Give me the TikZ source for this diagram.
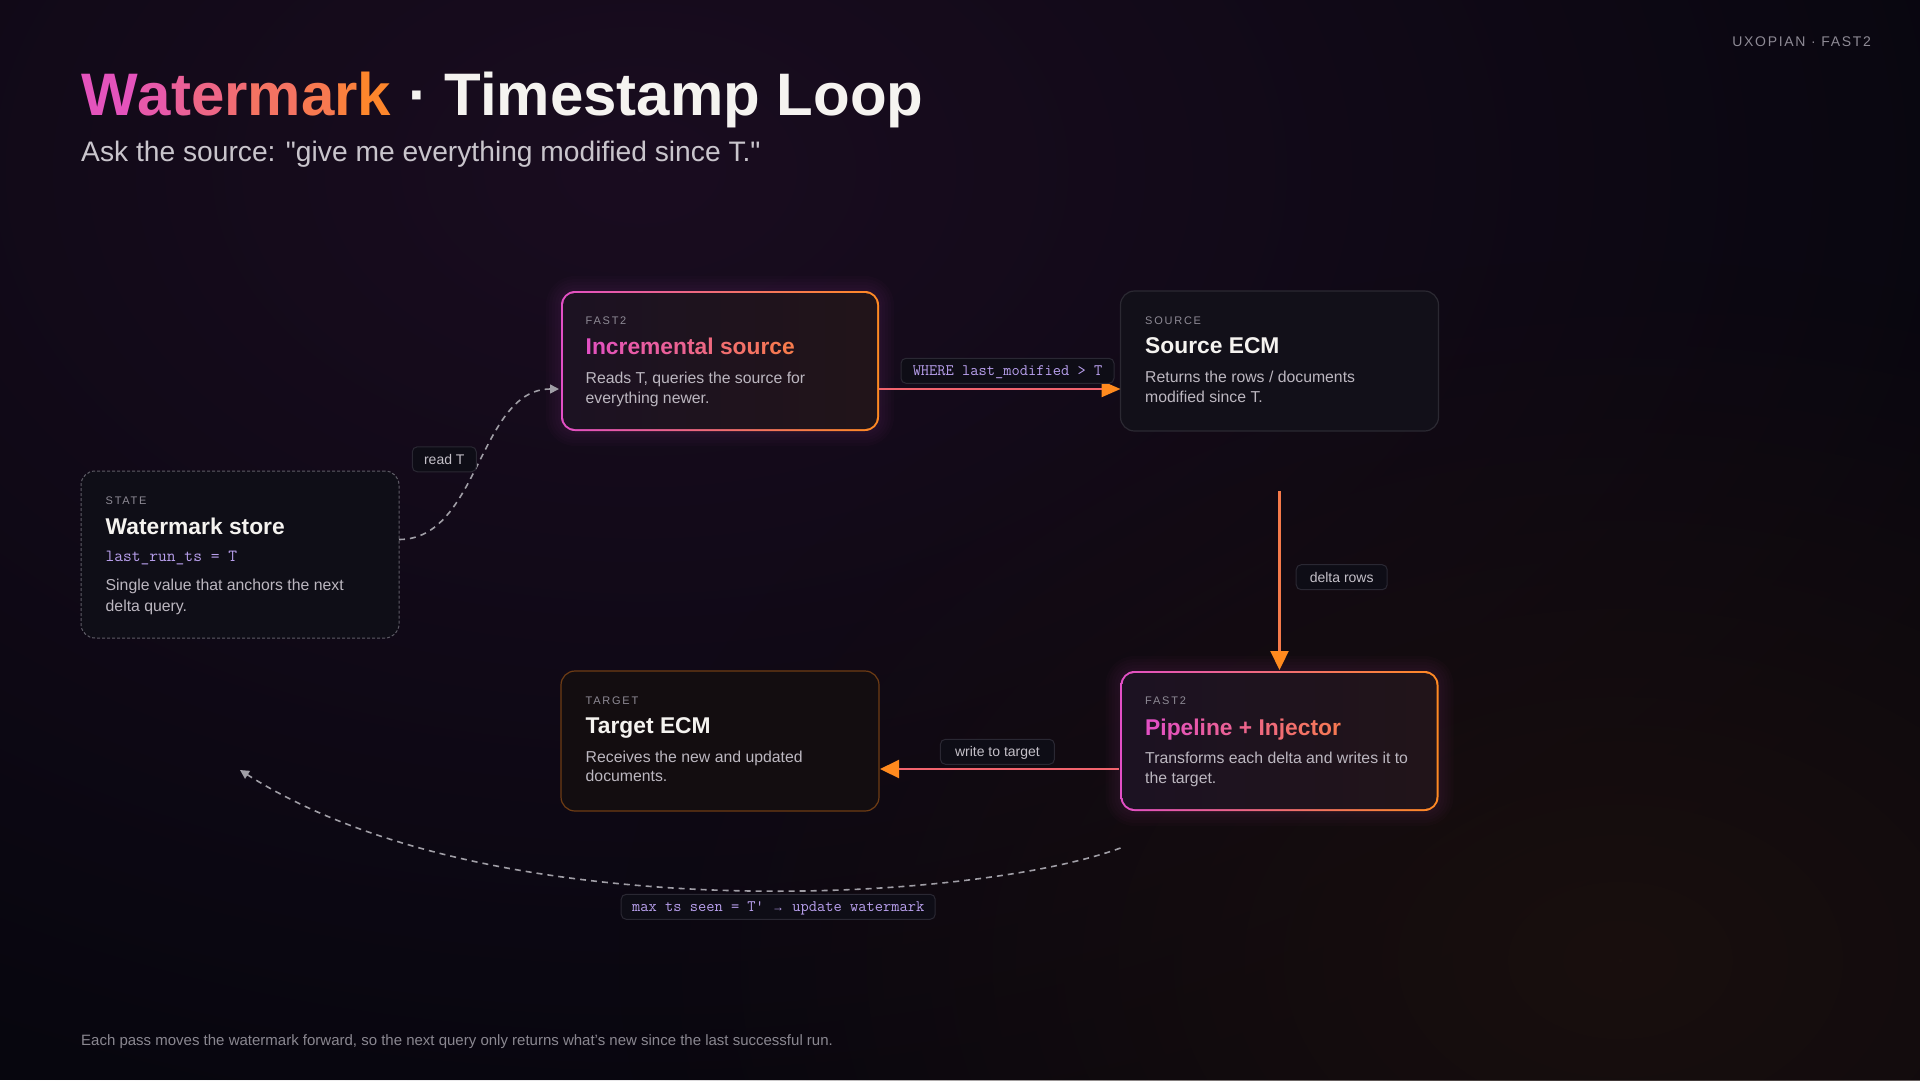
\documentclass[tikz,border=0pt]{standalone}
\usepackage{fontspec}
\setmainfont{Liberation Sans}
\usetikzlibrary{calc,arrows.meta,fadings}

\definecolor{bg}{HTML}{07060E}
\definecolor{pk}{HTML}{E24FC6}
\definecolor{org}{HTML}{FF8A22}
\definecolor{lblgray}{HTML}{8E8A95}
\definecolor{titlewhite}{HTML}{F5F3F0}
\definecolor{descgray}{HTML}{BCB7C0}
\definecolor{codepurple}{HTML}{B9A0EE}
\definecolor{incfillL}{HTML}{1C1222}
\definecolor{incfillR}{HTML}{211419}
\definecolor{srcfill}{HTML}{121019}
\definecolor{srcborder}{HTML}{2B2932}
\definecolor{wsfill}{HTML}{0F0E17}
\definecolor{wsborder}{HTML}{5E5C66}
\definecolor{tgtfill}{HTML}{130D10}
\definecolor{tgtborder}{HTML}{6E3C14}
\definecolor{lblfill}{HTML}{0E0D16}
\definecolor{lblborder}{HTML}{2A2833}
\definecolor{lbltext}{HTML}{C4C0C8}
\definecolor{linecoral}{HTML}{F2646E}
\definecolor{lineorange}{HTML}{F57A4A}
\definecolor{arrorange}{HTML}{FF8A1E}
\definecolor{dashgray}{HTML}{A09EA6}
\definecolor{subgray}{HTML}{C9C5CC}
\definecolor{footgray}{HTML}{8A8790}
\definecolor{glowA}{HTML}{1A0D20}
\definecolor{glowB}{HTML}{190F0D}

\tikzfading[name=glowfade, inner color=transparent!0, outer color=transparent!100]

\ExplSyntaxOn
\int_new:N \l__gt_i_int
\int_new:N \l__gt_n_int
\int_new:N \l__gt_p_int
\seq_new:N \l__gt_words_seq
\bool_new:N \l__gt_first_bool
\cs_new_protected:Npn \__gt_char:nnnn #1#2#3#4 { \textcolor{#2!#3!#1}{#4} }
\cs_generate_variant:Nn \__gt_char:nnnn { nnVn }
\NewDocumentCommand{\gradtext}{ m m m m }
  {
    \int_set:Nn \l__gt_n_int { \str_count:n {#4} }
    \int_zero:N \l__gt_i_int
    \bool_set_true:N \l__gt_first_bool
    \seq_set_split:Nnn \l__gt_words_seq { ~ } {#4}
    \seq_map_inline:Nn \l__gt_words_seq
      {
        \bool_if:NF \l__gt_first_bool { \c_space_tl \int_incr:N \l__gt_i_int }
        \bool_set_false:N \l__gt_first_bool
        \tl_map_inline:nn {##1}
          {
            \int_set:Nn \l__gt_p_int { ( #3 * ( 2 * \l__gt_i_int + 1 ) ) / ( 2 * \l__gt_n_int ) }
            \__gt_char:nnVn {#1} {#2} \l__gt_p_int {####1}
            \int_incr:N \l__gt_i_int
          }
      }
  }
\ExplSyntaxOff

\begin{document}
\begin{tikzpicture}[x=1pt,y=-1pt,
  card/.style={rectangle, minimum width=318pt, minimum height=140pt, inner sep=0pt, outer sep=0pt},
  kicker/.style={anchor=base west, inner sep=0pt, text=lblgray, font=\fontsize{11}{13}\selectfont\addfontfeature{LetterSpace=16}},
  cardtitle/.style={anchor=base west, inner sep=0pt, text=titlewhite, font=\fontsize{22.8}{27}\selectfont\bfseries},
  desc/.style={anchor=base west, inner sep=0pt, text=descgray, font=\fontsize{15.8}{20}\selectfont},
  lbl/.style={draw=lblborder, fill=lblfill, line width=1pt, rounded corners=5pt, inner sep=0pt, minimum height=25pt, text height=10pt, text depth=0pt, text=lbltext, font=\fontsize{14}{16}\selectfont},
  codelbl/.style={lbl, text=codepurple, font=\ttfamily\fontsize{16}{18}\selectfont},
  solidarrow/.style={line width=2.2pt},
  dasharrow/.style={dashgray, line width=1.6pt, dash pattern=on 6pt off 5pt, -{Triangle[length=9pt,width=9pt]}},
]
\useasboundingbox (0,0) rectangle (1920,1080);
\fill[bg] (0,0) rectangle (1920,1080);
\fill[glowA, path fading=glowfade] (640,170) ellipse [x radius=1500pt, y radius=1000pt];
\fill[glowB, path fading=glowfade] (1620,960) ellipse [x radius=1000pt, y radius=700pt];

% header
\node[anchor=base west, inner sep=0pt, font=\fontsize{60}{70}\selectfont\bfseries] (title) at (81,115)
  {\gradtext{pk}{org}{100}{Watermark}\textcolor{titlewhite}{\ ·\ Timestamp Loop}};
\node[anchor=base west, inner sep=0pt, text=subgray, font=\fontsize{28.2}{32}\selectfont] (sub) at (81,161)
  {Ask the source: \textquotedbl give me everything modified since T.\textquotedbl};
\node[anchor=base east, inner sep=0pt, text=lblgray, font=\fontsize{14}{16}\selectfont\addfontfeature{LetterSpace=12}] (brand) at (1871,46)
  {UXOPIAN · FAST2};
\node[anchor=base west, inner sep=0pt, text=footgray, font=\fontsize{15}{17}\selectfont] (foot) at (81,1045)
  {Each pass moves the watermark forward, so the next query only returns what's new since the last successful run.};

% cards
\node[card] (inc) at (720,361) {};
\node[card, draw=srcborder, fill=srcfill, line width=1.2pt, rounded corners=14pt] (src) at (1279.5,361) {};
\node[card, minimum height=167pt, draw=wsborder, fill=wsfill, line width=1pt, dash pattern=on 3pt off 2pt, rounded corners=14pt] (ws) at (240,554.5) {};
\node[card, draw=tgtborder, fill=tgtfill, line width=1.2pt, rounded corners=14pt] (tgt) at (720,741) {};
\node[card] (pipe) at (1279.5,741) {};

\foreach \n in {inc,pipe}{
  \foreach \g in {1,...,5}{
    \fill[pk, opacity=0.02, rounded corners={(14+3*\g)*1pt}] ($(\n.north west)+(-3*\g,-3*\g)$) rectangle ($(\n.south east)+(3*\g,3*\g)$);
  }
  \shade[left color=pk, right color=org, rounded corners=14pt] (\n.north west) rectangle (\n.south east);
  \shade[left color=incfillL, right color=incfillR, rounded corners=12pt] ($(\n.north west)+(2,2)$) rectangle ($(\n.south east)+(-2,-2)$);
}

% card texts
\node[kicker] (inc-k) at ($(inc.north west)+(24.5,33.5)$) {FAST2};
\node[cardtitle] (inc-t) at ($(inc.north west)+(24.5,63.5)$) {\gradtext{pk}{org}{76}{Incremental source}};
\node[desc] (inc-d1) at ($(inc.north west)+(24.5,92)$) {Reads T, queries the source for};
\node[desc] (inc-d2) at ($(inc.north west)+(24.5,112)$) {everything newer.};

\node[kicker] (src-k) at ($(src.north west)+(24.5,33)$) {SOURCE};
\node[cardtitle] (src-t) at ($(src.north west)+(24.5,62.5)$) {Source ECM};
\node[desc] (src-d1) at ($(src.north west)+(24.5,91)$) {Returns the rows / documents};
\node[desc] (src-d2) at ($(src.north west)+(24.5,111)$) {modified since T.};

\node[kicker] (ws-k) at ($(ws.north west)+(24.5,33)$) {STATE};
\node[cardtitle] (ws-t) at ($(ws.north west)+(24.5,63)$) {Watermark store};
\node[anchor=base west, inner sep=0pt, text=codepurple, font=\ttfamily\fontsize{17}{20}\selectfont] (ws-c) at ($(ws.north west)+(24.5,90)$) {last\_run\_ts = T};
\node[desc] (ws-d1) at ($(ws.north west)+(24.5,119)$) {Single value that anchors the next};
\node[desc] (ws-d2) at ($(ws.north west)+(24.5,140)$) {delta query.};

\node[kicker] (tgt-k) at ($(tgt.north west)+(24.5,33)$) {TARGET};
\node[cardtitle] (tgt-t) at ($(tgt.north west)+(24.5,62.5)$) {Target ECM};
\node[desc] (tgt-d1) at ($(tgt.north west)+(24.5,91)$) {Receives the new and updated};
\node[desc] (tgt-d2) at ($(tgt.north west)+(24.5,110.5)$) {documents.};

\node[kicker] (pipe-k) at ($(pipe.north west)+(24.5,33.5)$) {FAST2};
\node[cardtitle] (pipe-t) at ($(pipe.north west)+(24.5,64)$) {\gradtext{pk}{org}{72}{Pipeline + Injector}};
\node[desc] (pipe-d1) at ($(pipe.north west)+(24.5,92)$) {Transforms each delta and writes it to};
\node[desc] (pipe-d2) at ($(pipe.north west)+(24.5,112)$) {the target.};

% connectors
\draw[solidarrow, linecoral, -{Triangle[length=19pt,width=16pt,color=arrorange]}] ($(inc.east)+(0,28)$) -- ($(src.west)+(0,28)$);
\draw[solidarrow, lineorange, -{Triangle[length=19pt,width=18pt,color=arrorange]}] ($(src.south)+(0,60)$) -- ($(pipe.north)+(0,-1)$);
\draw[solidarrow, linecoral, -{Triangle[length=19pt,width=18pt,color=arrorange]}] ($(pipe.west)+(-2,28)$) -- ($(tgt.east)+(1,28)$);
\draw[dasharrow] ($(ws.east)+(0,-15)$) .. controls +(80,0) and +(-80,0) .. ($(inc.west)+(-2,28)$);
\coordinate (loopend) at ($(ws.south)+(0,132)$);
\draw[dasharrow] ($(pipe.south west)+(0,37)$) .. controls +(-150,55) and +(250,160) .. (loopend);

% labels
\node[codelbl, minimum width=213pt] (l-where) at (1007.5,370.8) {WHERE last\_modified > T};
\node[lbl, minimum width=64pt] (l-read) at (444.3,459.3) {read T};
\node[lbl, minimum width=91pt] (l-delta) at (1341.7,577.2) {delta rows};
\node[lbl, minimum width=114pt] (l-write) at (997.4,751.8) {write to target};
\node[codelbl, minimum width=314pt] (l-max) at (778.2,906.8) {max ts seen = T' {\normalfont\fontsize{12}{14}\selectfont→} update watermark};
\end{tikzpicture}
\end{document}
